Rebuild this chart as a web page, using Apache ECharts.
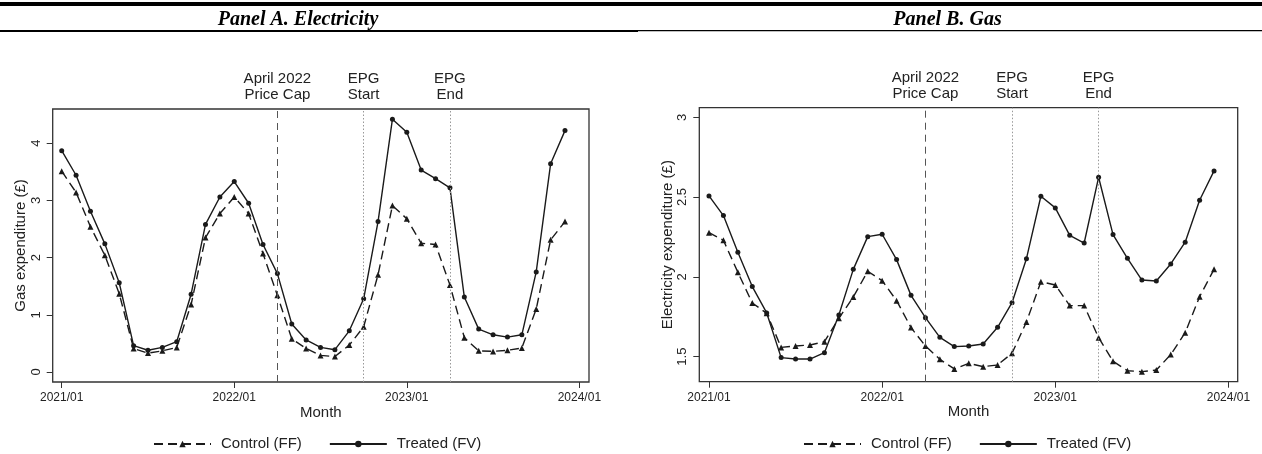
<!DOCTYPE html>
<html><head><meta charset="utf-8">
<script src="https://cdn.jsdelivr.net/npm/echarts@6/dist/echarts.min.js"></script>
<style>html,body{margin:0;padding:0;background:#fff}#c{width:1262px;height:454px}</style>
</head><body><div id="c"></div>
<script>
// ---------- data ----------
const months = ['2021/01','2021/02','2021/03','2021/04','2021/05','2021/06','2021/07','2021/08','2021/09','2021/10','2021/11','2021/12',
                '2022/01','2022/02','2022/03','2022/04','2022/05','2022/06','2022/07','2022/08','2022/09','2022/10','2022/11','2022/12',
                '2023/01','2023/02','2023/03','2023/04','2023/05','2023/06','2023/07','2023/08','2023/09','2023/10','2023/11','2023/12'];
const xTickLabels = ['2021/01','2022/01','2023/01','2024/01'];
const seriesNames = ['Control (FF)','Treated (FV)'];

const panelATitle = 'Panel A. Electricity';
const panelAYName = 'Gas expenditure (£)';
const panelAYTicks = [0,1,2,3,4];
const panelAControl = [3.51,3.14,2.54,2.04,1.37,0.41,0.33,0.37,0.43,1.18,2.35,2.77,
                       3.06,2.77,2.07,1.34,0.58,0.41,0.29,0.27,0.47,0.79,1.70,2.91,
                       2.68,2.25,2.23,1.52,0.60,0.37,0.36,0.38,0.42,1.10,2.31,2.63];
const panelATreated = [3.87,3.44,2.81,2.24,1.56,0.46,0.38,0.43,0.53,1.36,2.58,3.06,
                       3.33,2.95,2.23,1.72,0.84,0.56,0.43,0.39,0.72,1.28,2.63,4.42,
                       4.19,3.53,3.38,3.22,1.31,0.75,0.65,0.61,0.65,1.75,3.64,4.22];

const panelBTitle = 'Panel B. Gas';
const panelBYName = 'Electricity expenditure (£)';
const panelBYTicks = [1.5,2,2.5,3];
const panelBControl = [2.277,2.229,2.029,1.836,1.772,1.558,1.567,1.573,1.594,1.740,1.874,2.035,
                       1.976,1.851,1.682,1.567,1.483,1.423,1.458,1.437,1.448,1.521,1.717,1.970,
                       1.949,1.820,1.820,1.619,1.471,1.412,1.406,1.416,1.513,1.650,1.876,2.047];
const panelBTreated = [2.507,2.384,2.154,1.939,1.774,1.494,1.485,1.485,1.525,1.761,2.047,2.252,
                       2.267,2.108,1.884,1.744,1.621,1.563,1.567,1.579,1.684,1.838,2.114,2.505,
                       2.432,2.260,2.212,2.624,2.265,2.116,1.980,1.974,2.081,2.217,2.480,2.664];

const eventMonths = ['2022/04','2022/10','2023/04'];
const eventLabels = ['April 2022\nPrice Cap','EPG\nStart','EPG\nEnd'];
const eventStyles = ['dashed','dotted','dotted'];

// ---------- helpers ----------
function monthIndex(s){const p=s.split('/').map(Number);return (p[0]-2021)*12+(p[1]-1);}
const xTickVals = xTickLabels.map(monthIndex);
const INK = '#1a1a1a';
const FONT = '"Liberation Sans", Arial, sans-serif';

function pair(arr){return arr.map((v,i)=>[monthIndex(months[i]),v]);}

const panels = [
  {title:panelATitle, yName:panelAYName, yTicks:panelAYTicks, control:panelAControl, treated:panelATreated,
   grid:{left:52.7, top:109, width:536.3, height:273}, xMin:-0.626, xMax:36.67, yMin:-0.175, yMax:4.598,
   titleX:298, legendLeft:153},
  {title:panelBTitle, yName:panelBYName, yTicks:panelBYTicks, control:panelBControl, treated:panelBTreated,
   grid:{left:699.3, top:107.7, width:538.4, height:274}, xMin:-0.672, xMax:36.64, yMin:1.343, yMax:3.06,
   titleX:947.5, legendLeft:803}
];

const option = {
  animation:false,
  backgroundColor:'#fff',
  textStyle:{fontFamily:FONT},
  grid: panels.map(p=>Object.assign({show:true, borderColor:'#333', borderWidth:1.3, backgroundColor:'transparent'}, p.grid)),
  xAxis: panels.map((p,i)=>({
    type:'value', gridIndex:i, min:p.xMin, max:p.xMax,
    axisLine:{show:false, onZero:false},
    axisTick:{show:true, length:6, customValues:xTickVals, lineStyle:{color:'#333', width:1}},
    axisLabel:{customValues:xTickVals, fontSize:12, margin:10, color:'#222', fontFamily:FONT,
      formatter:v=>{const k=xTickVals.indexOf(Math.round(v));return k>=0?xTickLabels[k]:'';}},
    splitLine:{show:false},
    name:'Month', nameLocation:'middle', nameGap:23, nameMoveOverlap:false,
    nameTextStyle:{fontSize:15, color:'#222', fontFamily:FONT}
  })),
  yAxis: panels.map((p,i)=>({
    type:'value', gridIndex:i, min:p.yMin, max:p.yMax,
    axisLine:{show:false, onZero:false},
    axisTick:{show:true, length:6, customValues:p.yTicks, lineStyle:{color:'#333', width:1}},
    axisLabel:{customValues:p.yTicks, rotate:90, fontSize:13, margin:10, color:'#222', fontFamily:FONT},
    splitLine:{show:false},
    name:p.yName, nameLocation:'middle', nameGap:24, nameRotate:90,
    nameTextStyle:{fontSize:15, color:'#222', fontFamily:FONT}
  })),
  legend: panels.map(p=>({
    data:seriesNames, left:p.legendLeft, top:436.5, orient:'horizontal',
    itemWidth:57, itemHeight:8, itemGap:27, padding:0,
    textStyle:{fontSize:15, color:'#222', fontFamily:FONT, padding:[0,0,0,5]}
  })),
  series: [],
  graphic: [
    {type:'rect', shape:{x:0,y:2,width:1262,height:4}, style:{fill:'#000'}},
    {type:'rect', shape:{x:0,y:30,width:638,height:2}, style:{fill:'#000'}},
    {type:'rect', shape:{x:638,y:30,width:624,height:1.3}, style:{fill:'#000'}}
  ].concat(panels.map(p=>({
    type:'text', x:p.titleX, y:20,
    style:{text:p.title, align:'center', verticalAlign:'middle',
      fontFamily:'"Liberation Serif", "Times New Roman", serif', fontStyle:'italic', fontWeight:'bold', fontSize:20, fill:'#000'}
  })))
};

panels.forEach((p,i)=>{
  option.series.push({
    name:seriesNames[0], type:'line', xAxisIndex:i, yAxisIndex:i, data:pair(p.control),
    symbol:'triangle', symbolSize:6, itemStyle:{color:INK},
    lineStyle:{color:INK, width:1.4, type:[9,5]}
  });
  option.series.push({
    name:seriesNames[1], type:'line', xAxisIndex:i, yAxisIndex:i, data:pair(p.treated),
    symbol:'circle', symbolSize:5, itemStyle:{color:INK},
    lineStyle:{color:INK, width:1.4, type:'solid'},
    markLine:{
      silent:true, symbol:['none','none'],
      data: eventMonths.map((m,k)=>({
        xAxis:monthIndex(m),
        lineStyle:{color: k===0?'#555':'#999', width:1, type: eventStyles[k]==='dashed'?[7,5]:[1.5,2]},
        label:{show:true, position:'end', distance:6, formatter:eventLabels[k],
          fontSize:15, lineHeight:16, color:'#222', fontFamily:FONT, align:'center'}
      }))
    }
  });
});

const chart = echarts.init(document.getElementById('c'), null, {renderer:'canvas'});
chart.setOption(option);
</script>
</body></html>
